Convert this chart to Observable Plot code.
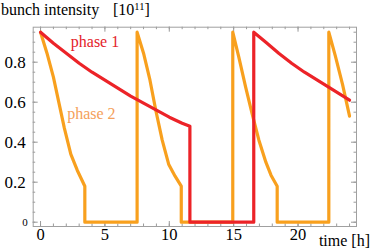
<!DOCTYPE html>
<html><head><meta charset="utf-8">
<script src="https://cdn.jsdelivr.net/npm/d3@7"></script>
<script src="https://cdn.jsdelivr.net/npm/@observablehq/plot@0.6"></script>
<style>body{margin:0;background:#fff} svg{display:block} svg text{font-family:"Liberation Serif","Times New Roman",serif !important}</style>
</head><body><div id="chart"></div>
<script>
// phase 2 (orange) – time [h] and bunch intensity [1e11]
const orangeT = [0, 0.5, 1.0, 1.45, 1.85, 2.35, 2.85, 3.44, 3.44, 7.5, 7.5, 8.0, 8.5, 8.95, 9.45, 9.95, 10.45, 10.93, 10.93, 14.93, 14.93, 15.4, 15.93, 16.44, 16.96, 17.5, 17.9, 18.38, 18.38, 22.39, 22.39, 22.9, 23.45, 24.0];
const orangeV = [0.95, 0.845, 0.725, 0.59, 0.47, 0.34, 0.26, 0.18, 0, 0, 0.95, 0.845, 0.71, 0.56, 0.41, 0.29, 0.23, 0.18, 0, 0, 0.95, 0.825, 0.675, 0.54, 0.41, 0.3, 0.235, 0.18, 0, 0, 0.95, 0.83, 0.69, 0.53];
// phase 1 (red)
const redT = [0, 1, 2, 3, 4, 5, 6, 7, 8, 9, 10, 11, 11.6, 11.6, 16.56, 16.56, 17.5, 18.5, 19.5, 20.5, 21.5, 22.5, 23.5, 24];
const redV = [0.95, 0.895, 0.845, 0.795, 0.75, 0.71, 0.67, 0.63, 0.595, 0.56, 0.525, 0.495, 0.48, 0, 0, 0.95, 0.9, 0.845, 0.795, 0.75, 0.71, 0.67, 0.63, 0.61];
// ticks
const xTicks = [0, 5, 10, 15, 20];
const xTickLabels = ["0", "5", "10", "15", "20"];
const xMinor = d3.range(0, 25, 1);
const yTicks = [0.2, 0.4, 0.6, 0.8];
const yTickLabels = ["0.2", "0.4", "0.6", "0.8"];
const yZero = [0];
const yMajor = [0, 0.2, 0.4, 0.6, 0.8];
const yMinor = d3.range(0, 20).map(i => i * 0.05);
// series labels
const seriesLabels = [
  {name: "phase 1", t: 4.23, v: 0.90, color: "#e4232a"},
  {name: "phase 2", t: 3.95, v: 0.5425, color: "#f5a05a"}
];

const W = 374, H = 251, mt = 26.7, ml = 32.7, mr = 18, mb = 25;
const fw = W - ml - mr, fh = H - mt - mb;
const orange = orangeT.map((t, i) => ({t, v: orangeV[i]}));
const red = redT.map((t, i) => ({t, v: redV[i]}));
const tickColor = "#9a9a9a";
const FONT = "Liberation Serif";

const plot = Plot.plot({
  width: W, height: H,
  marginTop: mt, marginLeft: ml, marginRight: mr, marginBottom: mb,
  style: {fontFamily: FONT, fontSize: "16px", background: "white", color: "#000", overflow: "visible"},
  x: {domain: [-0.57, 24.54]},
  y: {domain: [-0.0215, 0.975]},
  marks: [
    Plot.ruleX(xMinor, {x: d => d, insetTop: fh - 2.5, stroke: tickColor}),
    Plot.ruleX(xMinor, {x: d => d, insetBottom: fh - 2.5, stroke: tickColor}),
    Plot.ruleX(xTicks, {x: d => d, insetTop: fh - 5, stroke: tickColor}),
    Plot.ruleX(xTicks, {x: d => d, insetBottom: fh - 5, stroke: tickColor}),
    Plot.ruleY(yMinor, {y: d => d, insetRight: fw - 2.5, stroke: tickColor}),
    Plot.ruleY(yMinor, {y: d => d, insetLeft: fw - 2.5, stroke: tickColor}),
    Plot.ruleY(yMajor, {y: d => d, insetRight: fw - 5, stroke: tickColor}),
    Plot.ruleY(yMajor, {y: d => d, insetLeft: fw - 5, stroke: tickColor}),
    Plot.frame({stroke: "#a0a0a0"}),
    Plot.axisX({ticks: xTicks, tickSize: 0, tickPadding: 1.5, tickFormat: (d, i) => xTickLabels[i], fontSize: 16.5, label: null}),
    Plot.axisY({ticks: yTicks, tickSize: 0, tickPadding: 7.5, tickFormat: (d, i) => yTickLabels[i], fontSize: 17, label: null}),
    Plot.axisY({ticks: yZero, tickSize: 0, tickPadding: 5.5, tickFormat: () => "0", fontSize: 11, label: null}),
    Plot.line(orange, {x: "t", y: "v", stroke: "#f8a01e", strokeWidth: 3.2}),
    Plot.line(red, {x: "t", y: "v", stroke: "#ec2328", strokeWidth: 3.2}),
    Plot.text(seriesLabels, {x: "t", y: "v", text: "name", fill: "color", fontSize: 16, textAnchor: "middle", lineAnchor: "middle"})
  ]
});

const svg = d3.select(plot).attr("font-family", FONT);
const tt = svg.append("text").attr("x", 1).attr("y", 14.5).attr("font-size", 16).attr("fill", "#000")
  .attr("text-anchor", "start").attr("font-family", FONT);
tt.append("tspan").text("bunch intensity");
tt.append("tspan").attr("x", 113).text("[10");
tt.append("tspan").attr("dy", -5).attr("font-size", 10.5).text("11");
tt.append("tspan").attr("dy", 5).text("]");
svg.append("text").attr("x", 370).attr("y", 246).attr("text-anchor", "end").attr("font-size", 16)
  .attr("fill", "#000").attr("font-family", FONT).text("time [h]");

document.getElementById("chart").appendChild(plot);
</script>
</body></html>
